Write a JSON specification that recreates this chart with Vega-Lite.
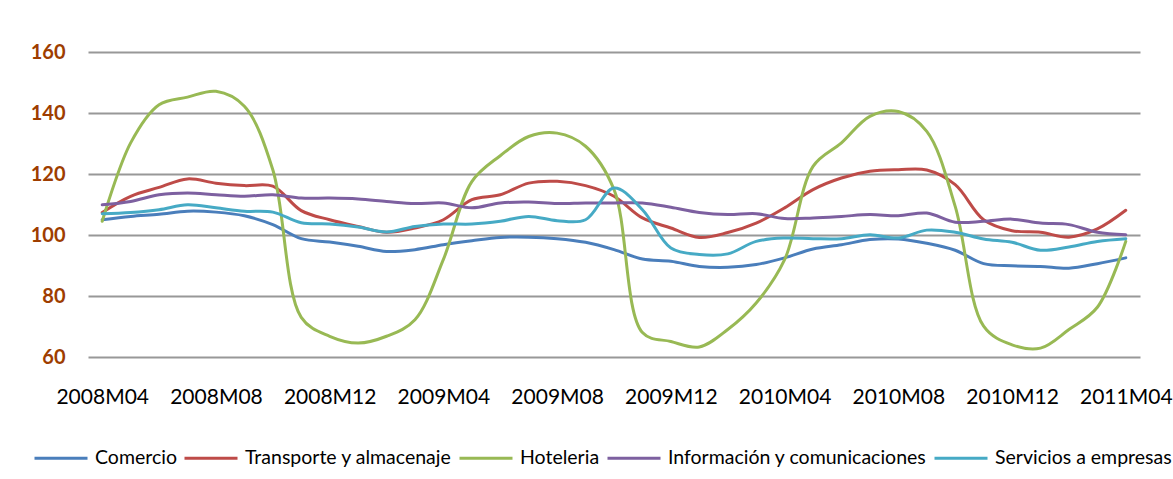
{
  "$schema": "https://vega.github.io/schema/vega-lite/v6.json",
  "width": 1052,
  "height": 305,
  "autosize": {"type": "none"},
  "padding": {"left": 88, "top": 52, "right": 33, "bottom": 122},
  "background": "#ffffff",
  "data": {
    "values": [
      {"mes": "2008M04", "Comercio": 105.0, "Transporte y almacenaje": 107.4, "Hoteleria": 104.5, "Información y comunicaciones": 109.9, "Servicios a empresas": 107.0},
      {"mes": "2008M05", "Comercio": 106.1, "Transporte y almacenaje": 112.7, "Hoteleria": 130.2, "Información y comunicaciones": 111.0, "Servicios a empresas": 107.4},
      {"mes": "2008M06", "Comercio": 106.8, "Transporte y almacenaje": 115.6, "Hoteleria": 142.7, "Información y comunicaciones": 113.2, "Servicios a empresas": 108.3},
      {"mes": "2008M07", "Comercio": 107.8, "Transporte y almacenaje": 118.4, "Hoteleria": 145.2, "Información y comunicaciones": 113.8, "Servicios a empresas": 109.9},
      {"mes": "2008M08", "Comercio": 107.5, "Transporte y almacenaje": 117.0, "Hoteleria": 147.1, "Información y comunicaciones": 113.2, "Servicios a empresas": 108.9},
      {"mes": "2008M09", "Comercio": 106.3, "Transporte y almacenaje": 116.2, "Hoteleria": 142.2, "Información y comunicaciones": 112.7, "Servicios a empresas": 107.8},
      {"mes": "2008M10", "Comercio": 103.4, "Transporte y almacenaje": 116.0, "Hoteleria": 121.4, "Información y comunicaciones": 113.2, "Servicios a empresas": 107.5},
      {"mes": "2008M11", "Comercio": 98.8, "Transporte y almacenaje": 108.0, "Hoteleria": 73.0, "Información y comunicaciones": 112.1, "Servicios a empresas": 104.0},
      {"mes": "2008M12", "Comercio": 97.7, "Transporte y almacenaje": 105.0, "Hoteleria": 66.8, "Información y comunicaciones": 112.1, "Servicios a empresas": 103.6},
      {"mes": "2009M01", "Comercio": 96.3, "Transporte y almacenaje": 102.8, "Hoteleria": 64.6, "Información y comunicaciones": 111.8, "Servicios a empresas": 102.6},
      {"mes": "2009M02", "Comercio": 94.6, "Transporte y almacenaje": 100.9, "Hoteleria": 66.8, "Información y comunicaciones": 111.0, "Servicios a empresas": 101.0},
      {"mes": "2009M03", "Comercio": 95.2, "Transporte y almacenaje": 102.3, "Hoteleria": 72.2, "Información y comunicaciones": 110.3, "Servicios a empresas": 102.8},
      {"mes": "2009M04", "Comercio": 96.8, "Transporte y almacenaje": 105.0, "Hoteleria": 92.0, "Información y comunicaciones": 110.5, "Servicios a empresas": 103.6},
      {"mes": "2009M05", "Comercio": 98.1, "Transporte y almacenaje": 111.6, "Hoteleria": 117.5, "Información y comunicaciones": 108.9, "Servicios a empresas": 103.6},
      {"mes": "2009M06", "Comercio": 99.2, "Transporte y almacenaje": 113.2, "Hoteleria": 126.0, "Información y comunicaciones": 110.5, "Servicios a empresas": 104.5},
      {"mes": "2009M07", "Comercio": 99.3, "Transporte y almacenaje": 117.0, "Hoteleria": 132.3, "Información y comunicaciones": 110.8, "Servicios a empresas": 106.1},
      {"mes": "2009M08", "Comercio": 98.8, "Transporte y almacenaje": 117.6, "Hoteleria": 133.4, "Información y comunicaciones": 110.3, "Servicios a empresas": 104.7},
      {"mes": "2009M09", "Comercio": 97.6, "Transporte y almacenaje": 116.2, "Hoteleria": 129.1, "Información y comunicaciones": 110.5, "Servicios a empresas": 105.0},
      {"mes": "2009M10", "Comercio": 95.2, "Transporte y almacenaje": 112.7, "Hoteleria": 114.9, "Información y comunicaciones": 110.5, "Servicios a empresas": 115.4},
      {"mes": "2009M11", "Comercio": 92.1, "Transporte y almacenaje": 105.6, "Hoteleria": 68.0, "Información y comunicaciones": 110.5, "Servicios a empresas": 108.3},
      {"mes": "2009M12", "Comercio": 91.4, "Transporte y almacenaje": 102.3, "Hoteleria": 65.1, "Información y comunicaciones": 109.1, "Servicios a empresas": 95.7},
      {"mes": "2010M01", "Comercio": 89.7, "Transporte y almacenaje": 99.2, "Hoteleria": 63.3, "Información y comunicaciones": 107.4, "Servicios a empresas": 93.6},
      {"mes": "2010M02", "Comercio": 89.4, "Transporte y almacenaje": 100.8, "Hoteleria": 69.0, "Información y comunicaciones": 106.7, "Servicios a empresas": 93.8},
      {"mes": "2010M03", "Comercio": 90.3, "Transporte y almacenaje": 103.9, "Hoteleria": 77.7, "Información y comunicaciones": 107.0, "Servicios a empresas": 97.9},
      {"mes": "2010M04", "Comercio": 92.5, "Transporte y almacenaje": 108.9, "Hoteleria": 91.9, "Información y comunicaciones": 105.4, "Servicios a empresas": 99.0},
      {"mes": "2010M05", "Comercio": 95.4, "Transporte y almacenaje": 114.9, "Hoteleria": 122.5, "Información y comunicaciones": 105.6, "Servicios a empresas": 98.8},
      {"mes": "2010M06", "Comercio": 96.8, "Transporte y almacenaje": 118.7, "Hoteleria": 130.2, "Información y comunicaciones": 106.1, "Servicios a empresas": 98.8},
      {"mes": "2010M07", "Comercio": 98.5, "Transporte y almacenaje": 120.9, "Hoteleria": 138.9, "Información y comunicaciones": 106.7, "Servicios a empresas": 100.1},
      {"mes": "2010M08", "Comercio": 98.7, "Transporte y almacenaje": 121.4, "Hoteleria": 140.5, "Información y comunicaciones": 106.3, "Servicios a empresas": 99.0},
      {"mes": "2010M09", "Comercio": 97.3, "Transporte y almacenaje": 121.3, "Hoteleria": 134.0, "Información y comunicaciones": 107.2, "Servicios a empresas": 101.6},
      {"mes": "2010M10", "Comercio": 95.0, "Transporte y almacenaje": 116.5, "Hoteleria": 109.4, "Información y comunicaciones": 104.2, "Servicios a empresas": 100.9},
      {"mes": "2010M11", "Comercio": 90.6, "Transporte y almacenaje": 105.0, "Hoteleria": 70.1, "Información y comunicaciones": 104.5, "Servicios a empresas": 98.7},
      {"mes": "2010M12", "Comercio": 89.9, "Transporte y almacenaje": 101.4, "Hoteleria": 64.0, "Información y comunicaciones": 105.2, "Servicios a empresas": 97.6},
      {"mes": "2011M01", "Comercio": 89.7, "Transporte y almacenaje": 100.9, "Hoteleria": 62.9, "Información y comunicaciones": 103.9, "Servicios a empresas": 95.0},
      {"mes": "2011M02", "Comercio": 89.1, "Transporte y almacenaje": 99.3, "Hoteleria": 69.0, "Información y comunicaciones": 103.4, "Servicios a empresas": 96.1},
      {"mes": "2011M03", "Comercio": 90.6, "Transporte y almacenaje": 102.0, "Hoteleria": 76.3, "Información y comunicaciones": 100.9, "Servicios a empresas": 97.9},
      {"mes": "2011M04", "Comercio": 92.5, "Transporte y almacenaje": 108.1, "Hoteleria": 97.9, "Información y comunicaciones": 100.1, "Servicios a empresas": 98.8}
    ]
  },
  "transform": [
    {"fold": ["Comercio", "Transporte y almacenaje", "Hoteleria", "Información y comunicaciones", "Servicios a empresas"], "as": ["sector", "valor"]}
  ],
  "mark": {"type": "line", "interpolate": "catmull-rom", "strokeWidth": 3, "strokeCap": "round", "strokeJoin": "round"},
  "encoding": {
    "x": {
      "field": "mes",
      "type": "ordinal",
      "sort": null,
      "scale": {"type": "point", "padding": 0.5},
      "axis": {
        "title": null,
        "values": ["2008M04", "2008M08", "2008M12", "2009M04", "2009M08", "2009M12", "2010M04", "2010M08", "2010M12", "2011M04"],
        "labelAngle": 0,
        "labelOverlap": false,
        "labelFlush": false,
        "labelBound": false,
        "ticks": false,
        "tickSize": 0,
        "domain": false,
        "grid": false,
        "labelPadding": 29,
        "labelFont": "Lato",
        "labelFontSize": 21,
        "labelFontWeight": "normal",
        "labelColor": "#000000"
      }
    },
    "y": {
      "field": "valor",
      "type": "quantitative",
      "scale": {"domain": [60, 160], "nice": false, "zero": false},
      "axis": {
        "title": null,
        "values": [60, 80, 100, 120, 140, 160],
        "ticks": false,
        "tickSize": 0,
        "domain": false,
        "grid": true,
        "gridColor": "#989898",
        "gridWidth": 1.8,
        "labelPadding": 23,
        "labelFont": "Lato",
        "labelFontSize": 20,
        "labelFontWeight": "bold",
        "labelColor": "#9E3D00"
      }
    },
    "color": {
      "field": "sector",
      "type": "nominal",
      "scale": {
        "domain": ["Comercio", "Transporte y almacenaje", "Hoteleria", "Información y comunicaciones", "Servicios a empresas"],
        "range": ["#4A7EBB", "#BE4B48", "#98B954", "#7D60A0", "#46AAC5"]
      },
      "legend": {
        "title": null,
        "orient": "none",
        "direction": "horizontal",
        "legendX": -55,
        "legendY": 378,
        "symbolType": "stroke",
        "symbolSize": 2809,
        "symbolStrokeWidth": 3,
        "labelFont": "Lato",
        "labelFontSize": 19.5,
        "labelFontWeight": "normal",
        "labelColor": "#000000",
        "labelOffset": 6,
        "columnPadding": 1,
        "labelLimit": 400
      }
    }
  },
  "config": {
    "view": {"stroke": null},
    "font": "Lato"
  }
}
